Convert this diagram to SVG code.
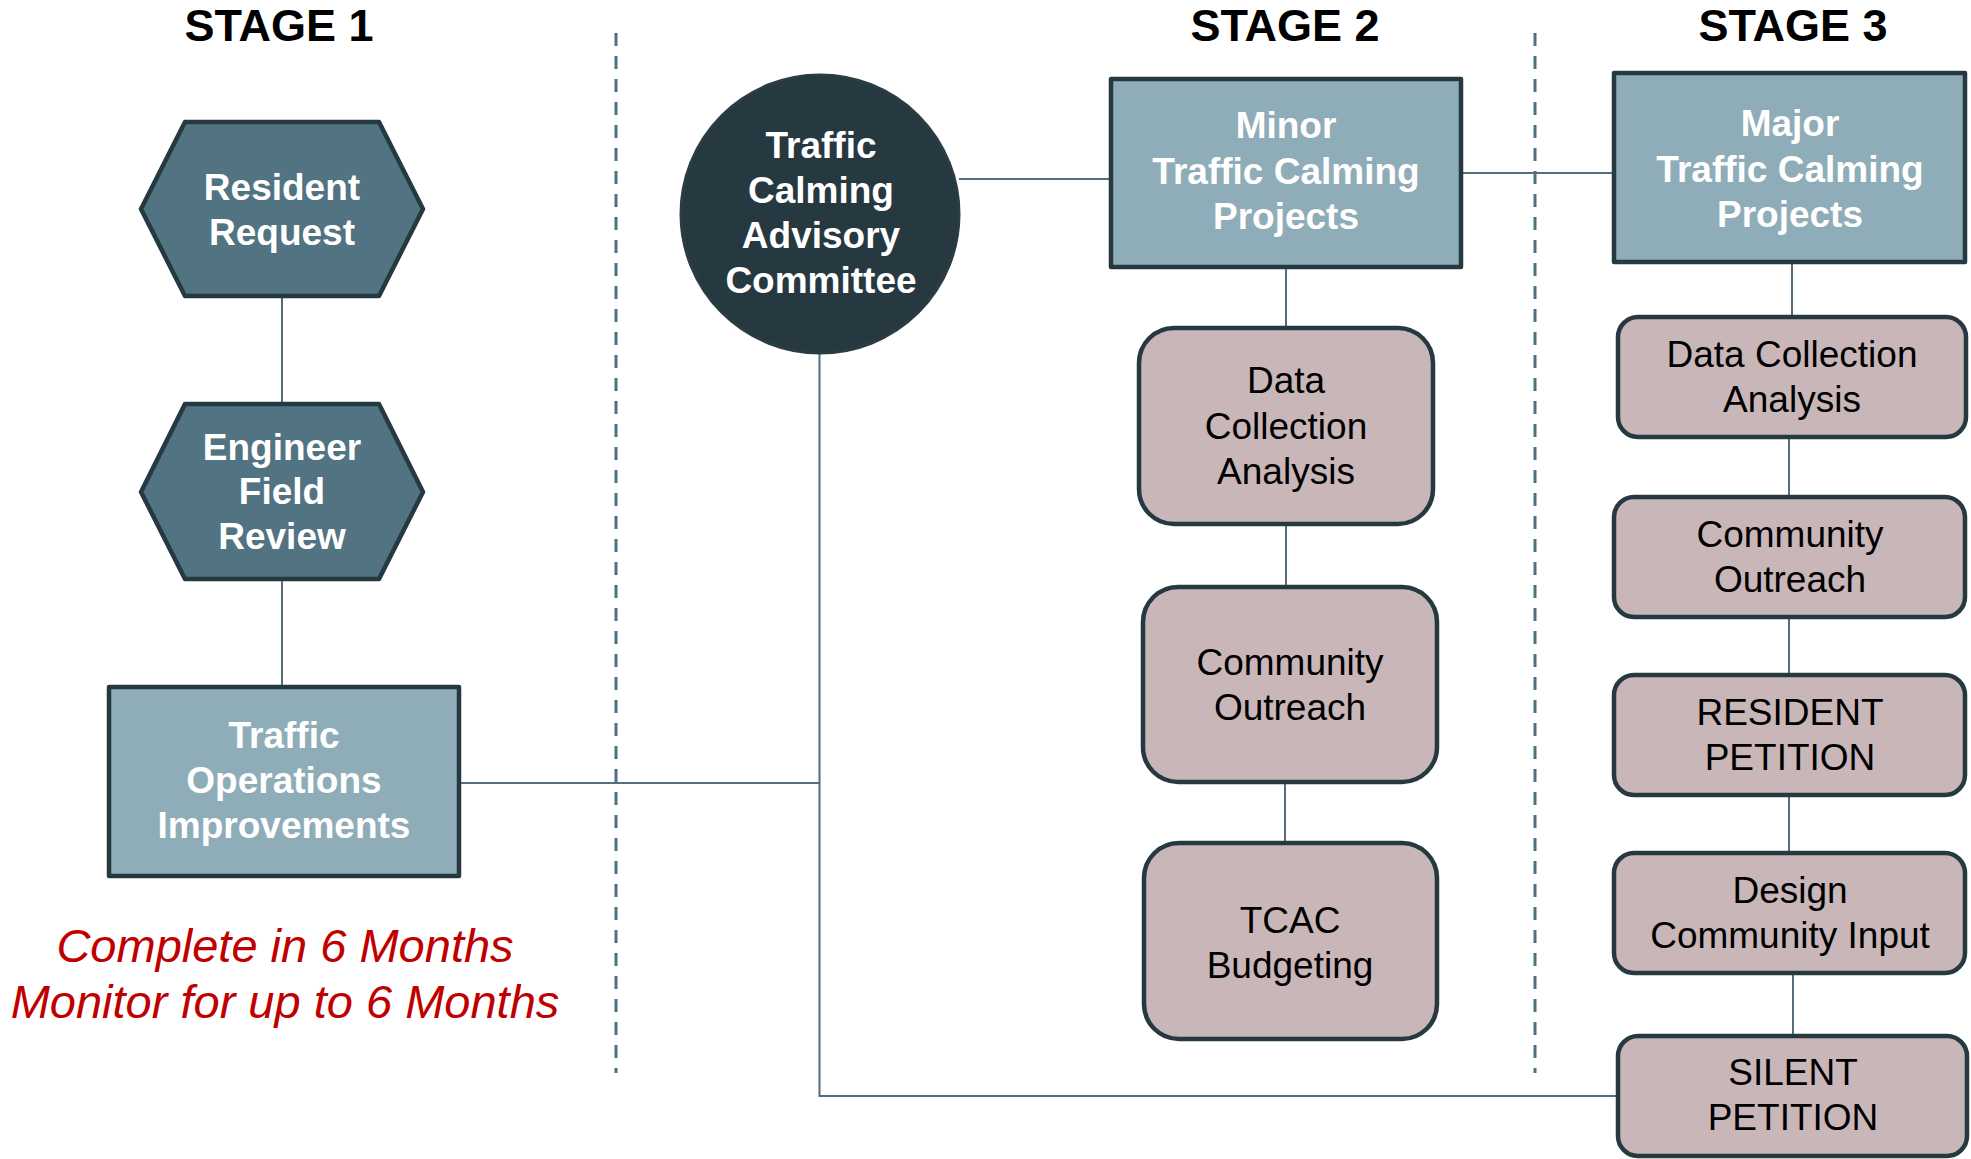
<svg xmlns="http://www.w3.org/2000/svg" width="1971" height="1159" viewBox="0 0 1971 1159">
<style>
.title{font-family:"Liberation Sans",Arial,sans-serif;font-weight:bold;font-size:45px;fill:#000;text-anchor:middle}
.bt{font-family:"Liberation Sans",Arial,sans-serif;font-weight:bold;font-size:37px;fill:#fff;text-anchor:middle}
.rt{font-family:"Liberation Sans",Arial,sans-serif;font-size:37px;fill:#000;text-anchor:middle}
.red{font-family:"Liberation Sans",Arial,sans-serif;font-style:italic;font-size:47px;fill:#c00000;text-anchor:middle}
.hex{fill:#527381;stroke:#263840;stroke-width:4.5;stroke-linejoin:round}
.sq{fill:#8fadb8;stroke:#263840;stroke-width:4.5;stroke-linejoin:round}
.pk{fill:#c9b6b9;stroke:#263840;stroke-width:4.5}
.circ{fill:#263840;stroke:#2b3c44;stroke-width:3}
.dash{stroke:#4f7080;stroke-width:3;stroke-dasharray:13 10;fill:none}
.con{stroke:#4f6e7e;stroke-width:2;fill:none}
</style>
<rect x="0" y="0" width="1971" height="1159" fill="#fff"/>
<g id="titles">
<text class="title" x="279" y="41">STAGE 1</text>
<text class="title" x="1285" y="41">STAGE 2</text>
<text class="title" x="1793" y="41">STAGE 3</text>
</g>
<g id="dividers">
<line class="dash" x1="616" y1="33" x2="616" y2="1073"/>
<line class="dash" x1="1535" y1="33" x2="1535" y2="1073"/>
</g>
<g id="connectors">
<line class="con" x1="282" y1="296" x2="282" y2="404"/>
<line class="con" x1="282" y1="579" x2="282" y2="687"/>
<polyline class="con" points="459,783 819.5,783"/>
<polyline class="con" points="819.5,352 819.5,1096 1618,1096"/>
<line class="con" x1="959" y1="179" x2="1111" y2="179"/>
<line class="con" x1="1461" y1="173" x2="1614" y2="173"/>
<line class="con" x1="1286" y1="267" x2="1286" y2="328"/>
<line class="con" x1="1286" y1="524" x2="1286" y2="587"/>
<line class="con" x1="1285" y1="782" x2="1285" y2="843"/>
<line class="con" x1="1792" y1="262" x2="1792" y2="317"/>
<line class="con" x1="1789" y1="437" x2="1789" y2="497"/>
<line class="con" x1="1789" y1="617" x2="1789" y2="675"/>
<line class="con" x1="1789" y1="795" x2="1789" y2="853"/>
<line class="con" x1="1793" y1="973" x2="1793" y2="1036"/>
</g>
<g id="resident-request">
<polygon class="hex" points="141,209 185,122 379,122 423,209 379,296 185,296"/>
<text class="bt" x="282" y="200">Resident</text>
<text class="bt" x="282" y="245">Request</text>
</g>
<g id="engineer-field-review">
<polygon class="hex" points="141,492 185,404 379,404 423,492 379,579 185,579"/>
<text class="bt" x="282" y="460">Engineer</text>
<text class="bt" x="282" y="504">Field</text>
<text class="bt" x="282" y="549">Review</text>
</g>
<g id="traffic-operations">
<rect class="sq" x="109" y="687" width="350" height="189"/>
<text class="bt" x="284" y="748">Traffic</text>
<text class="bt" x="284" y="793">Operations</text>
<text class="bt" x="284" y="838">Improvements</text>
</g>
<g id="note">
<text class="red" x="285" y="962">Complete in 6 Months</text>
<text class="red" x="285" y="1018">Monitor for up to 6 Months</text>
</g>
<g id="tcac">
<circle class="circ" cx="820" cy="214" r="139"/>
<text class="bt" x="821" y="158">Traffic</text>
<text class="bt" x="821" y="203">Calming</text>
<text class="bt" x="821" y="248">Advisory</text>
<text class="bt" x="821" y="293">Committee</text>
</g>
<g id="minor">
<rect class="sq" x="1111" y="79" width="350" height="188"/>
<text class="bt" x="1286" y="138">Minor</text>
<text class="bt" x="1286" y="184">Traffic Calming</text>
<text class="bt" x="1286" y="229">Projects</text>
</g>
<g id="major">
<rect class="sq" x="1614" y="73" width="351" height="189"/>
<text class="bt" x="1790" y="136">Major</text>
<text class="bt" x="1790" y="182">Traffic Calming</text>
<text class="bt" x="1790" y="227">Projects</text>
</g>
<g id="s2-data">
<rect class="pk" x="1139" y="328" width="294" height="196" rx="35"/>
<text class="rt" x="1286" y="393">Data</text>
<text class="rt" x="1286" y="439">Collection</text>
<text class="rt" x="1286" y="484">Analysis</text>
</g>
<g id="s2-outreach">
<rect class="pk" x="1143" y="587" width="294" height="195" rx="35"/>
<text class="rt" x="1290" y="675">Community</text>
<text class="rt" x="1290" y="720">Outreach</text>
</g>
<g id="s2-budget">
<rect class="pk" x="1144" y="843" width="293" height="196" rx="35"/>
<text class="rt" x="1290" y="933">TCAC</text>
<text class="rt" x="1290" y="978">Budgeting</text>
</g>
<g id="s3-data">
<rect class="pk" x="1618" y="317" width="348" height="120" rx="20"/>
<text class="rt" x="1792" y="367">Data Collection</text>
<text class="rt" x="1792" y="412">Analysis</text>
</g>
<g id="s3-outreach">
<rect class="pk" x="1614" y="497" width="351" height="120" rx="20"/>
<text class="rt" x="1790" y="547">Community</text>
<text class="rt" x="1790" y="592">Outreach</text>
</g>
<g id="s3-resident-petition">
<rect class="pk" x="1614" y="675" width="351" height="120" rx="20"/>
<text class="rt" x="1790" y="725">RESIDENT</text>
<text class="rt" x="1790" y="770">PETITION</text>
</g>
<g id="s3-design">
<rect class="pk" x="1614" y="853" width="351" height="120" rx="20"/>
<text class="rt" x="1790" y="903">Design</text>
<text class="rt" x="1790" y="948">Community Input</text>
</g>
<g id="s3-silent-petition">
<rect class="pk" x="1618" y="1036" width="349" height="120" rx="20"/>
<text class="rt" x="1793" y="1085">SILENT</text>
<text class="rt" x="1793" y="1130">PETITION</text>
</g>
</svg>
